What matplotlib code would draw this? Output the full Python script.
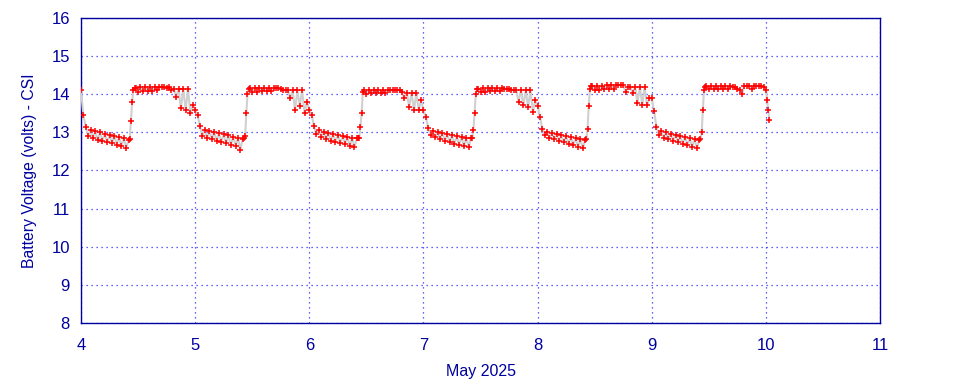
import numpy as np
import matplotlib
matplotlib.use("Agg")
import matplotlib.pyplot as plt

plt.rcParams["font.family"] = ["Liberation Sans", "DejaVu Sans"]

# sample hours within each day (night half-hourly, denser during the morning rise)
hours = np.concatenate([np.arange(0, 10.5, 0.5),
                        [10.25, 10.5, 10.75, 11.0, 11.25],
                        np.arange(11.5, 24.0, 0.5)])

day_starts = [4, 5, 6, 7, 8, 9]

volts_may4 = [14.1, 13.45, 13.15, 12.9, 13.06, 12.84, 13.03, 12.8, 13.0, 12.77, 12.97, 12.74, 12.94, 12.72, 12.91, 12.68, 12.88, 12.63, 12.85, 12.6, 12.8,
              12.82, 13.3, 13.8, 14.1, 14.16,
              14.17, 14.07, 14.18, 14.08, 14.18, 14.09, 14.19, 14.08, 14.19, 14.1, 14.19, 14.18, 14.19, 14.17, 14.18, 14.12, 14.15, 13.92, 14.15, 13.63, 14.15, 13.58, 14.14, 13.5, 13.72]
volts_may5 = [13.6, 13.45, 13.18, 12.9, 13.07, 12.85, 13.04, 12.82, 13.01, 12.78, 12.98, 12.75, 12.95, 12.72, 12.92, 12.68, 12.89, 12.65, 12.86, 12.55, 12.83,
              12.84, 12.9, 13.5, 14.0, 14.14,
              14.16, 14.06, 14.17, 14.07, 14.17, 14.08, 14.17, 14.08, 14.17, 14.09, 14.17, 14.16, 14.17, 14.13, 14.1, 14.12, 14.1, 13.9, 14.1, 13.58, 14.1, 13.7, 14.1, 13.5, 13.8]
volts_may6 = [13.6, 13.45, 13.16, 12.95, 13.05, 12.88, 13.02, 12.82, 12.99, 12.78, 12.96, 12.75, 12.93, 12.72, 12.9, 12.7, 12.87, 12.65, 12.85, 12.62, 12.84,
              12.84, 12.86, 13.14, 13.5, 14.06,
              14.1, 14.02, 14.11, 14.03, 14.11, 14.03, 14.11, 14.04, 14.11, 14.04, 14.11, 14.1, 14.11, 14.1, 14.11, 14.1, 14.05, 13.9, 14.04, 13.67, 14.04, 13.58, 14.04, 13.58, 13.84]
volts_may7 = [13.6, 13.4, 13.12, 12.92, 13.04, 12.87, 13.01, 12.82, 12.98, 12.78, 12.95, 12.74, 12.92, 12.7, 12.9, 12.67, 12.88, 12.64, 12.86, 12.62, 12.85,
              12.86, 13.05, 13.5, 14.0, 14.14,
              14.15, 14.07, 14.16, 14.07, 14.16, 14.08, 14.17, 14.08, 14.16, 14.08, 14.16, 14.15, 14.15, 14.15, 14.11, 14.11, 14.11, 13.8, 14.11, 13.71, 14.1, 13.67, 14.1, 13.54, 13.84]
volts_may8 = [13.7, 13.4, 13.1, 12.92, 13.02, 12.86, 12.99, 12.82, 12.96, 12.78, 12.93, 12.74, 12.9, 12.7, 12.88, 12.66, 12.85, 12.62, 12.83, 12.58, 12.81,
              12.82, 13.1, 13.7, 14.15, 14.23,
              14.22, 14.12, 14.23, 14.12, 14.23, 14.13, 14.24, 14.13, 14.24, 14.14, 14.25, 14.24, 14.25, 14.24, 14.06, 14.2, 14.2, 14.03, 14.2, 13.76, 14.2, 13.71, 14.2, 13.71, 13.89]
volts_may9 = [13.89, 13.55, 13.14, 12.92, 13.03, 12.86, 13.0, 12.82, 12.97, 12.78, 12.94, 12.74, 12.91, 12.7, 12.88, 12.66, 12.85, 12.62, 12.83, 12.58, 12.81,
              12.82, 13.0, 13.6, 14.12, 14.2,
              14.21, 14.13, 14.22, 14.13, 14.22, 14.13, 14.22, 14.13, 14.22, 14.14, 14.22, 14.2, 14.2, 14.15, 14.12, 14.02, 14.22, 14.22, 14.23, 14.15, 14.23, 14.22, 14.23, 14.22, 14.2]
# last partial day (May 10)
hours_may10 = [0.0, 0.25, 0.5, 0.75]
volts_may10 = [14.12, 13.85, 13.58, 13.32]

days = [volts_may4, volts_may5, volts_may6, volts_may7, volts_may8, volts_may9]

t = np.concatenate([d + hours / 24.0 for d in day_starts] + [10 + np.array(hours_may10) / 24.0])
v = np.concatenate([np.array(x) for x in days] + [np.array(volts_may10)])

navy = "#0000a0"

fig = plt.figure(figsize=(9.6, 3.84), dpi=100)
ax = fig.add_axes([0.0844, 0.159, 0.8323, 0.794])

ax.plot(t, v, color="#d0d0d0", lw=1.5, marker="+", ms=4.5, mec="red", mew=1.1, zorder=3)

ax.set_xlim(4, 11)
ax.set_ylim(8, 16)
ax.set_xticks(range(4, 12))
ax.set_yticks(range(8, 17))
ax.grid(True, color="#3030ff", linestyle=(0, (1, 3)), lw=0.9)
for s in ax.spines.values():
    s.set_color(navy)
    s.set_linewidth(1.0)
ax.tick_params(length=0, colors=navy, labelsize=12)
ax.tick_params(axis="x", pad=11)
ax.tick_params(axis="y", pad=8)
ax.set_xlabel("May 2025", color=navy, fontsize=11.5, labelpad=8)
ax.set_ylabel("Battery Voltage (volts) - CSI", color=navy, fontsize=11.3, labelpad=10)

fig.savefig("out.png", dpi=100)
